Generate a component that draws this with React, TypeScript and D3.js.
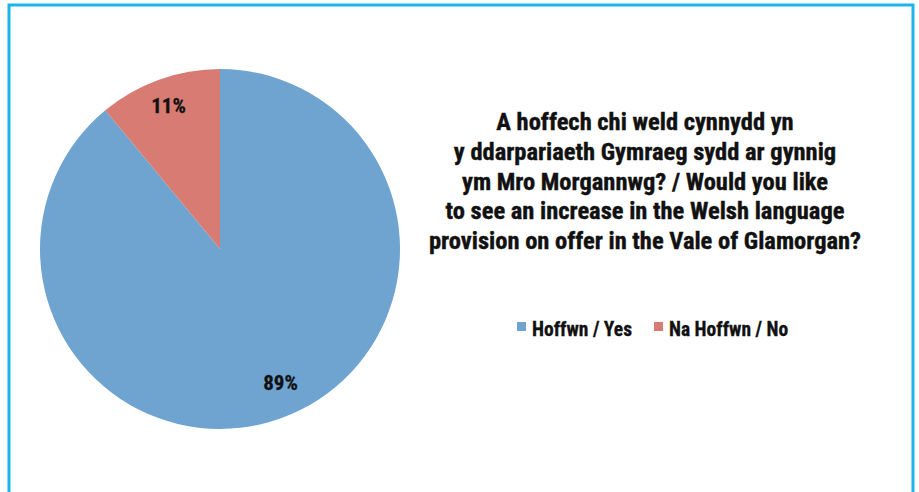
import React from "react";
import * as d3 from "d3";

const categories = ["Hoffwn / Yes", "Na Hoffwn / No"];
const values = [89, 11];
const colors = ["#6fa4d1", "#d87b73"];
const titleLines = [
  "A hoffech chi weld cynnydd yn",
  "y ddarpariaeth Gymraeg sydd ar gynnig",
  "ym Mro Morgannwg? / Would you like",
  "to see an increase in the Welsh language",
  "provision on offer in the Vale of Glamorgan?",
];

const W = 919;
const H = 492;
const FONT = "'Liberation Sans Narrow', 'Arial Narrow', 'Roboto Condensed', sans-serif";

export default function App() {
  const cx = 220;
  const cy = 249;
  const r = 180;
  const pie = d3.pie<number>().sort(null).value((d) => d);
  const arcs = pie(values);
  const arc = d3.arc<d3.PieArcDatum<number>>().innerRadius(0).outerRadius(r);
  const labelArc = d3.arc<d3.PieArcDatum<number>>().innerRadius(152).outerRadius(152);

  const legendX = [517, 654];

  return (
    <svg
      width={W}
      height={H}
      style={{ position: "fixed", left: 0, top: 0, background: "#fff" }}
    >
      <rect x={0} y={0} width={W} height={H} fill="#fff" />
      <rect x={9} y={5} width={904} height={500} fill="none" stroke="#1bb5ec" strokeWidth={3} />
      <g transform={`translate(${cx},${cy})`}>
        {arcs.map((a, i) => (
          <path key={i} d={arc(a) || ""} fill={colors[i]} />
        ))}
        {arcs.map((a, i) => {
          const [x, y] = labelArc.centroid(a);
          const adj = i === 0 ? [9, -9] : [0, 0];
          return (
            <text
              key={"l" + i}
              x={x + adj[0]}
              y={y + adj[1]}
              dy="0.35em"
              textAnchor="middle"
              fontFamily={FONT}
              fontWeight="bold"
              fontSize={21}
              fill="#111"
              stroke="#111"
              strokeWidth={0.3}
            >
              {values[i]}%
            </text>
          );
        })}
      </g>
      {titleLines.map((t, i) => (
        <text
          key={t}
          x={645}
          y={130 + i * 29.8}
          textAnchor="middle"
          fontFamily={FONT}
          fontWeight="bold"
          fontSize={24.5}
          fill="#111"
          stroke="#111"
          strokeWidth={0.4}
        >
          {t}
        </text>
      ))}
      {categories.map((c, i) => (
        <g key={c}>
          <rect x={legendX[i]} y={322} width={9} height={9} fill={colors[i]} />
          <text
            x={legendX[i] + 15}
            y={336}
            fontFamily={FONT}
            fontWeight="bold"
            fontSize={19.5}
            fill="#111"
            stroke="#111"
            strokeWidth={0.3}
          >
            {c}
          </text>
        </g>
      ))}
    </svg>
  );
}
